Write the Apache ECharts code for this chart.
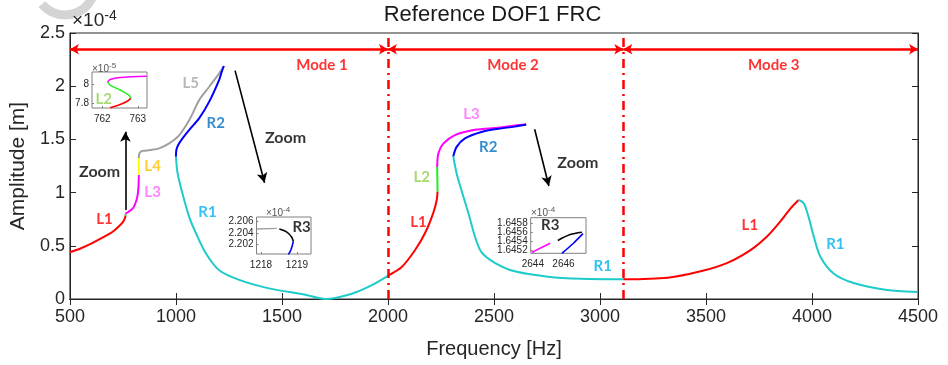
<!DOCTYPE html>
<html><head><meta charset="utf-8">
<script src="https://cdn.jsdelivr.net/npm/echarts@6/dist/echarts.min.js"></script>
<style>html,body{margin:0;padding:0;background:#fff}#c{width:948px;height:365px}</style>
</head><body><div id="c"></div>
<script>
// ---------- Data (amplitude in 1e-4 m, frequency in Hz) ----------
const m1L1 = [[500,0.44],[550,0.475],[600,0.52],[655,0.58],[700,0.63],[740,0.70],[755,0.74],[763,0.785]];
const m1L2 = [[763,0.785],[762.2,0.803]];
const m1L3 = [[762.2,0.803],[777,0.82],[800,0.86],[814,0.93],[821,1.0],[824,1.08],[825,1.165]];
const m1L4 = [[825,1.165],[825,1.325]];
const m1L5 = [[825,1.325],[828,1.37],[838,1.39],[851,1.394],[880,1.40],[921,1.416],[968,1.463],[1016,1.541],[1063,1.682],[1110,1.87],[1157,1.995],[1204,2.121],[1226,2.19]];
const m1R2 = [[1226,2.19],[1215,2.13],[1204,2.06],[1157,1.855],[1110,1.70],[1063,1.59],[1031,1.51],[1010,1.445],[1002,1.40],[1000,1.337]];
const m1R1 = [[1000,1.337],[1008,1.18],[1031,0.99],[1063,0.77],[1094,0.62],[1141,0.43],[1204,0.27],[1298,0.18],[1439,0.10],[1611,0.04],[1705,0.0],[1830,0.05],[1924,0.13],[2005,0.225]];
const m2L1 = [[2005,0.225],[2065,0.30],[2128,0.46],[2175,0.62],[2214,0.81],[2230,0.93],[2234,1.01]];
const m2L2 = [[2234,1.01],[2232,1.24]];
const m2L3 = [[2232,1.24],[2238,1.37],[2261,1.46],[2316,1.54],[2410,1.59],[2520,1.61],[2598,1.63],[2652,1.64]];
const m2R2 = [[2652,1.64],[2598,1.62],[2520,1.60],[2441,1.57],[2363,1.51],[2324,1.43],[2308,1.34]];
const m2R1 = [[2308,1.34],[2324,1.18],[2347,1.02],[2379,0.81],[2410,0.59],[2441,0.44],[2504,0.34],[2598,0.26],[2755,0.21],[2911,0.19],[3110,0.185]];
const m3L1 = [[3110,0.185],[3319,0.20],[3475,0.26],[3601,0.34],[3710,0.46],[3789,0.59],[3851,0.73],[3898,0.85],[3937,0.93]];
const m3R1 = [[3937,0.93],[3961,0.90],[3984,0.77],[4008,0.59],[4039,0.40],[4102,0.24],[4196,0.15],[4337,0.09],[4500,0.065]];

// Inset 1 (x1e-5), mode 1 L2 zoom
const in1Red = [[762.22,7.75],[762.41,7.77],[762.69,7.817],[762.81,7.853]];
const in1Green = [[762.81,7.853],[762.74,7.887],[762.5,7.94],[762.22,7.993],[762.15,8.027]];
const in1Magenta = [[762.15,8.027],[762.22,8.053],[762.5,8.074],[763.25,8.087]];
// Inset 2 (x1e-4), mode 1 R3 zoom
const in2Gray = [[1217.88,2.2047],[1218.44,2.2048]];
const in2Black = [[1218.51,2.2047],[1218.71,2.2042],[1218.85,2.2033],[1218.90,2.2025]];
const in2Blue = [[1218.90,2.2025],[1218.83,2.2010],[1218.76,2.2002]];
// Inset 3 (x1e-4), mode 2 R3 zoom
const in3Magenta = [[2643.93,1.64516],[2645.13,1.64536]];
const in3Black = [[2645.63,1.64542],[2646.44,1.64555],[2647.2,1.6456]];
const in3Blue = [[2647.27,1.64557],[2646.65,1.64536],[2645.9,1.64514]];

// Tick values
const in1XTicks = [762,763];
const in1YTicks = [7.8,8];
const in2XTicks = [1218,1219];
const in2YTicks = [2.202,2.204,2.206];
const in3XTicks = [2644,2646];
const in3YTicks = [1.6452,1.6454,1.6456,1.6458];
const in3YLabelsA = [1.6452,1.6456];
const in3YLabelsB = [1.6454,1.6458];

// Mode boundaries and annotations
const modeBounds = [500,2000,3110,4500];
const modeArrowLevel = 2.347;
const modeLabels = [[1689,2.199,'Mode 1'],[2590,2.199,'Mode 2'],[3820,2.199,'Mode 3']];
const branchLabels = [[663,0.749,'L1'],[890,1.008,'L3'],[890,1.25,'L4'],[1070,2.027,'L5'],[1188,1.657,'R2'],[1149,0.82,'R1'],
  [2394,1.739,'L3'],[2473,1.431,'R2'],[2159,1.149,'L2'],[2144,0.726,'L1'],[3013,0.304,'R1'],
  [3707,0.695,'L1'],[4110,0.517,'R1']];
const zoomLabels = [[640,1.196,'Zoom'],[1517,1.51,'Zoom'],[2896,1.281,'Zoom']];
const zoomArrows = [[[761.8,0.836],[761.8,1.572]],[[1279,2.146],[1418,1.093]],[[2692,1.595],[2759,1.062]]];
const in1Labels = [[762.04,7.845,'L2']];
const in2Labels = [[1219.13,2.2051,'R3']];
const in3Labels = [[2645.13,1.64575,'R3']];

// ---------- Styles ----------
const C = {red:'#ff0000',green:'#22ee22',magenta:'#ff00ff',yellow:'#ffff00',gray:'#a0a0a0',blue:'#0000ff',cyan:'#1ecbcb',black:'#000000'};
const labelColor = {L1:'#ff0000',L2:'#92d050',L3:'#ff66ff',L4:'#ffc000',L5:'#a6a6a6',R1:'#00b0f0',R2:'#0070c0',R3:'#000000',Zoom:'#000000'};
const AX = '#262626';
const FONT = '"Liberation Sans", Arial, sans-serif';
const BFONT = 'Lato, "Open Sans", sans-serif';

// axis index: main grid uses 0, inset k uses k+1
function curve(data, color, ax, width){
  return {type:'line', data:data, xAxisIndex:ax, yAxisIndex:ax, showSymbol:false, symbol:'none',
    smooth:0.3, lineStyle:{color:color, width:width||2}, silent:true, z:3};
}
function labels(arr, ax, size, colorFn){
  return {type:'scatter', xAxisIndex:ax, yAxisIndex:ax, symbolSize:0, silent:true, z:5,
    data: arr.map(a=>({value:[a[0],a[1]], label:{show:true, position:'inside', formatter:a[2],
      color: colorFn(a[2]), fontSize:size, fontWeight:'bold', fontFamily:BFONT}}))};
}
function insetAxes(gridIdx, xmin, xmax, ymin, ymax, xt, yt, ylab, yfmt){
  const common = {gridIndex:gridIdx, type:'value', splitLine:{show:false}, axisLine:{show:false}};
  return {
    x:Object.assign({}, common, {min:xmin, max:xmax,
      axisTick:{show:true, inside:true, length:2, customValues:xt, lineStyle:{color:'#808080'}},
      axisLabel:{customValues:xt, fontSize:10, color:AX, fontFamily:FONT, margin:6,
        showMinLabel:true, showMaxLabel:true, formatter:v=>String(v)}}),
    y:Object.assign({}, common, {min:ymin, max:ymax,
      axisTick:{show:true, inside:true, length:2, customValues:yt, lineStyle:{color:'#808080'}},
      axisLabel:{customValues:ylab, fontSize:10, color:AX, fontFamily:FONT, margin:3,
        showMinLabel:true, showMaxLabel:true, formatter:yfmt}})
  };
}
const fmt4 = v=>v.toFixed(4);
const ax1 = insetAxes(1, 761.71, 763.26, 7.747, 8.133, in1XTicks, in1YTicks, in1YTicks, v=>String(Math.round(v*10)/10));
const ax2 = insetAxes(2, 1217.875, 1219.39, 2.2003, 2.2068, in2XTicks, in2YTicks, in2YTicks, v=>v.toFixed(3));
const ax3 = insetAxes(3, 2643.86, 2647.47, 1.64514, 1.64592, in3XTicks, in3YTicks, in3YLabelsA, fmt4);
const ax3b = {gridIndex:3, type:'value', position:'left', offset:0, min:1.64514, max:1.64592,
  splitLine:{show:false}, axisLine:{show:false}, axisTick:{show:false},
  axisLabel:{customValues:in3YLabelsB, fontSize:10, color:AX, fontFamily:FONT, margin:3,
    showMinLabel:true, showMaxLabel:true, formatter:fmt4}};

const mainAxisCommon = {type:'value', gridIndex:0, splitLine:{show:false},
  axisLine:{show:true, lineStyle:{color:AX, width:1}},
  axisTick:{show:true, inside:true, length:6, lineStyle:{color:AX}}};

const modeArrowData = [];
for (let i=0;i<modeBounds.length-1;i++){
  modeArrowData.push([{coord:[modeBounds[i],modeArrowLevel]},{coord:[modeBounds[i+1],modeArrowLevel]}]);
}

const option = {
  animation:false,
  backgroundColor:'#ffffff',
  grid:[
    {left:67, right:30, top:33, bottom:66, show:true, borderColor:AX, borderWidth:1, backgroundColor:'transparent', z:0},
    {left:92, top:72, width:55, height:36, show:true, borderColor:'#808080', borderWidth:1, backgroundColor:'#fff'},
    {left:256.5, top:217, width:54.5, height:37, show:true, borderColor:'#808080', borderWidth:1, backgroundColor:'#fff'},
    {left:530.7, top:217.7, width:55.3, height:35.6, show:true, borderColor:'#808080', borderWidth:1, backgroundColor:'#fff'}
  ],
  xAxis:[
    Object.assign({}, mainAxisCommon, {min:500, max:4500, interval:500, position:'bottom',
      name:'Frequency [Hz]', nameLocation:'middle', nameGap:40,
      nameTextStyle:{fontSize:20, color:AX, fontFamily:FONT},
      axisLabel:{fontSize:18, color:AX, fontFamily:FONT, margin:9, formatter:v=>String(v)}}),
    Object.assign({}, mainAxisCommon, {min:500, max:4500, interval:500, position:'top', axisLabel:{show:false}}),
    ax1.x, ax2.x, ax3.x
  ],
  yAxis:[
    Object.assign({}, mainAxisCommon, {min:0, max:2.5, interval:0.5, position:'left',
      name:'Amplitude [m]', nameLocation:'middle', nameGap:39,
      nameTextStyle:{fontSize:21, color:AX, fontFamily:FONT},
      axisLabel:{fontSize:18, color:AX, fontFamily:FONT, margin:5}}),
    Object.assign({}, mainAxisCommon, {min:0, max:2.5, interval:0.5, position:'right', axisLabel:{show:false}}),
    ax1.y, ax2.y, ax3.y, ax3b
  ],
  graphic:[
    {type:'arc', shape:{cx:65, cy:-15, r:30, startAngle:0.45, endAngle:2.45, clockwise:true},
      style:{stroke:'#d4d4d4', lineWidth:9, fill:null}, silent:true, z:-1},
    {type:'text', x:492.5, y:4, style:{text:'Reference DOF1 FRC', fontSize:22, fill:'#1a1a1a', fontFamily:FONT, align:'center'}},
    {type:'text', x:72, y:9, style:{text:'{a|×10}{b|-4}', fill:AX, fontFamily:FONT,
      rich:{a:{fontSize:19, fontFamily:FONT, fill:AX}, b:{fontSize:14, fontFamily:FONT, fill:AX, padding:[0,0,10,0]}}}},
    {type:'text', x:92, y:62, style:{text:'{a|×10}{b|-5}', rich:{a:{fontSize:10, fill:'#555', fontFamily:FONT}, b:{fontSize:8, fill:'#555', fontFamily:FONT, padding:[0,0,6,0]}}}},
    {type:'text', x:266, y:206, style:{text:'{a|×10}{b|-4}', rich:{a:{fontSize:10, fill:'#555', fontFamily:FONT}, b:{fontSize:8, fill:'#555', fontFamily:FONT, padding:[0,0,6,0]}}}},
    {type:'text', x:531, y:206, style:{text:'{a|×10}{b|-4}', rich:{a:{fontSize:10, fill:'#555', fontFamily:FONT}, b:{fontSize:8, fill:'#555', fontFamily:FONT, padding:[0,0,6,0]}}}}
  ],
  series:[
    curve(m1L1,C.red,0), curve(m1L2,C.green,0), curve(m1L3,C.magenta,0), curve(m1L4,C.yellow,0),
    curve(m1L5,C.gray,0), curve(m1R2,C.blue,0), curve(m1R1,C.cyan,0),
    curve(m2L1,C.red,0), curve(m2L2,C.green,0), curve(m2L3,C.magenta,0), curve(m2R2,C.blue,0), curve(m2R1,C.cyan,0),
    curve(m3L1,C.red,0), curve(m3R1,C.cyan,0),
    curve(in1Red,C.red,2,1.6), curve(in1Green,C.green,2,1.6), curve(in1Magenta,C.magenta,2,1.6),
    curve(in2Gray,C.gray,3,1.4), curve(in2Black,C.black,3,1.6), curve(in2Blue,C.blue,3,1.6),
    curve(in3Magenta,C.magenta,4,1.6), curve(in3Black,C.black,4,1.6), curve(in3Blue,C.blue,4,1.6),
    // mode boundary dash-dot lines
    {type:'line', data:[], xAxisIndex:0, yAxisIndex:0, silent:true,
      markLine:{silent:true, symbol:['none','none'], label:{show:false}, animation:false,
        lineStyle:{color:C.red, width:2.5, type:[9,5,2,5]},
        data:[{xAxis:modeBounds[1]},{xAxis:modeBounds[2]}]}},
    // mode arrows
    {type:'line', data:[], xAxisIndex:0, yAxisIndex:0, silent:true,
      markLine:{silent:true, symbol:['arrow','arrow'], symbolSize:[8,9], label:{show:false}, animation:false,
        lineStyle:{color:C.red, width:2.5, type:'solid'}, data:modeArrowData}},
    // zoom arrows
    {type:'line', data:[], xAxisIndex:0, yAxisIndex:0, silent:true,
      markLine:{silent:true, symbol:['none','arrow'], symbolSize:[8,10], label:{show:false}, animation:false,
        lineStyle:{color:'#000', width:1.6, type:'solid'},
        data:zoomArrows.map(p=>[{coord:p[0]},{coord:p[1]}])}},
    labels(modeLabels,0,15,()=>'#ff0000'),
    labels(branchLabels,0,15,t=>labelColor[t]),
    labels(zoomLabels,0,16,()=>'#000'),
    labels(in1Labels,2,15,t=>labelColor[t]),
    labels(in2Labels,3,15,t=>labelColor[t]),
    labels(in3Labels,4,15,t=>labelColor[t])
  ]
};
const chart = echarts.init(document.getElementById('c'), null, {renderer:'canvas'});
chart.setOption(option);
</script></body></html>
